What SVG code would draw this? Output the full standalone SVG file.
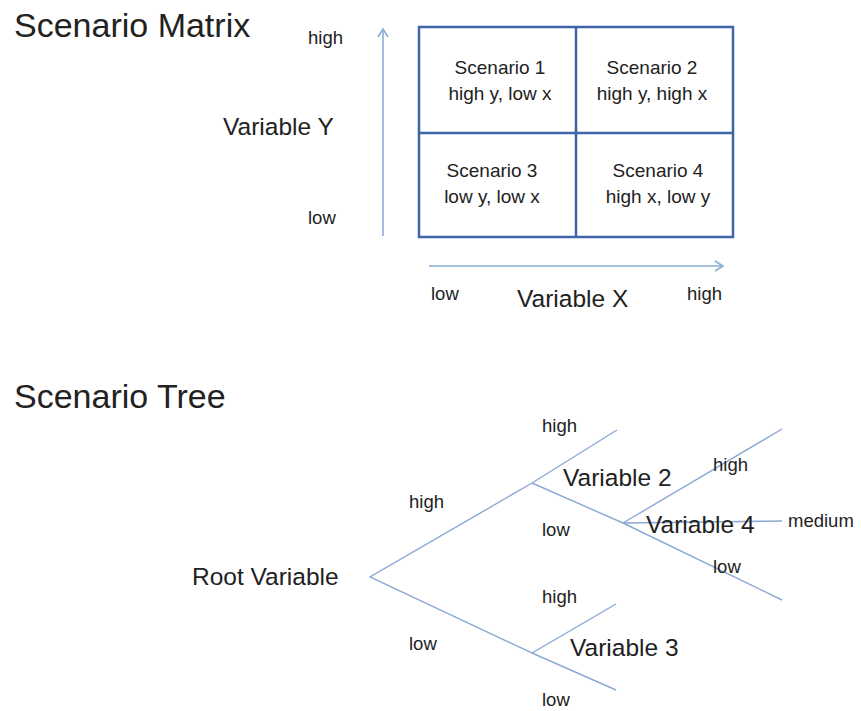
<svg xmlns="http://www.w3.org/2000/svg" width="861" height="711" viewBox="0 0 861 711">
<defs>
<style>
text{font-family:"Liberation Sans",Arial,sans-serif;fill:#222}
.title{font-size:34px}
.big{font-size:24.5px}
.cell{font-size:19px;text-anchor:middle}
.lbl{font-size:18.5px}
.axis{stroke:#8cadd6;stroke-width:1.6;fill:none}
.grid{stroke:#3d65a8;stroke-width:2.5;fill:none}
.br{stroke:#8ca8d4;stroke-width:1.4;fill:none}
</style>
<marker id="arr" markerWidth="12" markerHeight="12" refX="10" refY="6" orient="auto" markerUnits="userSpaceOnUse">
<polyline points="2,1 10,6 2,11" fill="none" stroke="#8cadd6" stroke-width="1.6"/>
</marker>
</defs>
<rect width="861" height="711" fill="#fff"/>

<g id="matrix-title"><text class="title" x="14" y="37">Scenario Matrix</text></g>

<g id="y-axis-labels">
<text class="lbl" x="308" y="44">high</text>
<text class="big" x="223" y="135">Variable Y</text>
<text class="lbl" x="308" y="224">low</text>
</g>

<g id="x-axis-labels">
<text class="lbl" x="431" y="300">low</text>
<text class="big" x="517" y="307">Variable X</text>
<text class="lbl" x="687" y="300">high</text>
</g>

<g id="connectors">
<line class="axis" x1="383" y1="236" x2="383" y2="29" marker-end="url(#arr)"/>
<line class="axis" x1="429" y1="266" x2="723" y2="266" marker-end="url(#arr)"/>
<g id="tree-branches">
<polyline class="br" points="617,430 532,483 370,577 532,653 616,604"/>
<line class="br" x1="532" y1="483" x2="623" y2="523"/>
<line class="br" x1="532" y1="653" x2="616" y2="690"/>
<line class="br" x1="623" y1="523" x2="782" y2="429"/>
<line class="br" x1="623" y1="523" x2="782" y2="521"/>
<line class="br" x1="623" y1="523" x2="782" y2="600"/>
</g>
</g>

<g id="matrix-grid">
<rect class="grid" x="419" y="27" width="314" height="210"/>
<line class="grid" x1="576" y1="27" x2="576" y2="237"/>
<line class="grid" x1="419" y1="133" x2="733" y2="133"/>
</g>

<g id="scenario1"><text class="cell" x="500" y="74">Scenario 1</text><text class="cell" x="500" y="100">high y, low x</text></g>
<g id="scenario2"><text class="cell" x="652" y="74">Scenario 2</text><text class="cell" x="652" y="100">high y, high x</text></g>
<g id="scenario3"><text class="cell" x="492" y="177">Scenario 3</text><text class="cell" x="492" y="203">low y, low x</text></g>
<g id="scenario4"><text class="cell" x="658" y="177">Scenario 4</text><text class="cell" x="658" y="203">high x, low y</text></g>

<g id="tree-title"><text class="title" x="14" y="408">Scenario Tree</text></g>

<g id="root"><text class="big" x="192" y="585">Root Variable</text></g>
<g id="variable2"><text class="big" x="563" y="486">Variable 2</text></g>
<g id="variable3"><text class="big" x="570" y="656">Variable 3</text></g>
<g id="variable4"><text class="big" x="646" y="533">Variable 4</text></g>

<g id="branch-labels">
<text class="lbl" x="542" y="432">high</text>
<text class="lbl" x="409" y="508">high</text>
<text class="lbl" x="542" y="536">low</text>
<text class="lbl" x="713" y="471">high</text>
<text class="lbl" x="788" y="527">medium</text>
<text class="lbl" x="713" y="573">low</text>
<text class="lbl" x="542" y="603">high</text>
<text class="lbl" x="409" y="650">low</text>
<text class="lbl" x="542" y="706">low</text>
</g>
</svg>
